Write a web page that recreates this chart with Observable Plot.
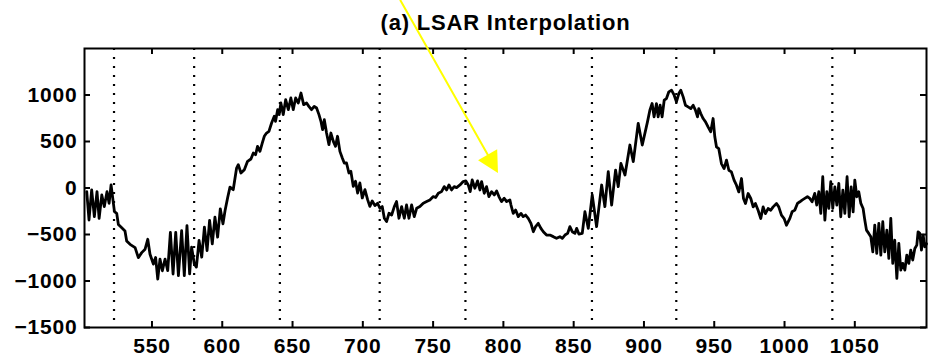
<!DOCTYPE html>
<html><head><meta charset="utf-8">
<script src="https://cdn.jsdelivr.net/npm/d3@7"></script>
<script src="https://cdn.jsdelivr.net/npm/@observablehq/plot@0.6"></script>
<style>
html,body{margin:0;padding:0;background:#fff;}
#chart svg{display:block}
</style></head><body><div id="chart"></div>
<script>
// sample index (x) and amplitude (y)
const sampleX = [503.6,505.2,507.1,509.0,510.9,512.4,514.3,516.1,518.0,519.5,520.9,523.3,524.9,526.1,528.5,530.8,532.0,534.4,538.0,540.3,542.7,545.1,547.0,548.6,551.0,552.6,554.1,555.7,557.4,559.3,561.2,563.1,565.0,566.9,568.8,571.1,573.0,574.9,576.8,578.2,580.1,581.6,583.5,585.4,587.3,589.2,591.0,592.9,594.8,596.7,598.6,600.5,602.0,603.9,605.5,
607.8,610.2,611.4,613.3,615.7,618.0,620.4,622.1,623.7,625.1,626.8,628.5,629.9,631.5,633.2,635.1,637.0,637.9,639.4,640.5,641.7,643.4,645.1,647.0,648.8,650.5,652.2,654.1,656.0,657.9,660.0,661.6,663.5,665.4,667.1,668.8,670.2,671.4,672.6,674.2,675.9,677.3,679.0,680.6,682.0,683.7,685.4,686.8,688.4,690.1,691.5,693.2,694.8,696.3,697.9,699.6,701.5,703.4,705.0,
706.7,708.6,710.5,712.2,713.8,715.3,716.9,718.6,720.5,722.4,724.0,725.7,727.6,729.5,731.1,732.8,734.7,736.6,738.3,740.6,743.0,745.4,747.7,750.1,751.8,753.7,756.0,757.9,759.6,761.3,763.1,765.0,766.7,769.1,771.4,773.3,775.0,776.4,777.8,779.7,781.6,783.3,784.5,786.4,788.0,789.7,791.6,793.5,795.2,796.8,798.7,800.6,802.3,804.6,
805.4,807.0,808.7,810.6,812.5,814.1,815.8,817.7,819.6,821.3,822.9,824.8,826.7,828.4,830.7,833.1,835.5,837.8,840.2,841.9,843.8,845.7,847.3,849.0,850.9,852.1,853.7,856.1,858.0,860.4,863.2,866.3,869.9,872.2,874.6,877.0,879.8,881.7,883.6,886.5,890.0,892.4,895.9,898.8,
902.5,904.2,905.8,907.2,908.9,910.1,911.5,912.9,914.4,916.0,917.7,919.6,921.5,923.1,924.8,926.2,927.9,929.5,931.4,933.3,935.0,936.6,938.1,939.0,940.4,942.1,943.8,945.6,947.5,949.2,950.4,951.6,953.2,955.1,957.0,958.7,960.4,962.2,964.1,965.8,967.5,969.4,970.8,972.2,974.1,976.0,977.7,979.3,981.2,983.1,984.8,986.4,988.3,990.2,991.9,994.3,995.9,997.8,999.7,1001.4,
1003.8,1005.4,1007.3,1009.2,1010.9,1012.5,1014.4,1016.3,1018.0,1019.6,1021.5,1022.9,1024.4,1025.8,1027.2,1028.7,1030.1,1031.5,1032.9,1034.3,1035.8,1037.2,1038.6,1040.0,1041.5,1042.9,1044.5,1046.0,1047.4,1048.8,1050.0,1051.4,1052.8,1054.3,1055.9,1057.1,1058.3,1059.9,1061.4,1062.8,1064.2,1065.6,1067.1,1068.5,1069.9,1071.3,1072.8,1074.2,1075.6,1077.0,1078.4,1079.9,1081.3,1082.7,1084.1,1085.6,1087.0,1088.4,1089.8,1091.2,1092.7,1094.1,1095.0,1096.2,1097.4,1098.6,1099.8,1101.0];
const sampleY = [-40,-344,-21,-308,-39,-326,-75,-200,-39,-164,33,-254,-272,-393,-428,-463,-570,-606,-641,-749,-695,-658,-551,-712,-818,-747,-980,-765,-890,-764,-889,-477,-925,-477,-943,-458,-942,-404,-924,-636,-815,-851,-564,-744,-421,-672,-349,-600,-314,-529,-224,-385,-242,-99,9,
-18,215,251,161,197,287,312,376,358,448,394,484,556,591,609,699,771,717,842,789,914,789,950,842,968,842,968,914,1021,896,914,878,842,878,860,789,717,627,735,591,466,591,502,448,556,394,323,269,269,161,179,18,72,-54,54,-107,-18,-125,-197,
-139,-189,-164,-218,-200,-325,-361,-272,-290,-200,-146,-325,-200,-325,-182,-325,-182,-308,-218,-200,-164,-146,-128,-92,-103,-57,-39,15,-21,33,-21,15,4,33,69,76,33,-39,87,-3,76,-21,69,-57,15,-92,-39,-75,-32,-92,-146,-110,-146,-128,
-183,-273,-237,-308,-273,-308,-291,-326,-380,-470,-416,-380,-434,-470,-506,-506,-523,-541,-523,-541,-506,-488,-416,-470,-488,-434,-495,-488,-255,-434,-75,-416,32,-201,175,-183,193,14,265,140,462,283,695,462,
711,837,908,765,908,765,890,765,944,962,1034,1052,998,926,1016,1052,980,890,872,854,890,837,765,854,801,747,711,657,604,747,550,442,424,263,209,299,191,173,84,30,-42,102,-113,-167,-59,-113,-203,-167,-239,-328,-203,-275,-221,-239,-203,-167,-203,-292,-328,-400,
-327,-256,-238,-166,-148,-130,-112,-94,-112,-148,-58,-184,-40,-273,121,-345,-40,-220,67,-220,13,-184,49,-309,-23,-273,121,-309,13,-256,85,-94,-40,-166,-220,-345,-453,-488,-524,-686,-399,-704,-381,-721,-363,-686,-453,-757,-327,-811,-560,-972,-596,-883,-811,-883,-721,-811,-668,-775,-650,-614,-471,-488,-668,-506,-632,-600];

const gapMarkers = [523, 580, 641, 712, 773, 863, 923, 1034];
const xTicks = [550, 600, 650, 700, 750, 800, 850, 900, 950, 1000, 1050];
const yTicks = [-1500, -1000, -500, 0, 500, 1000];
const titleText = ["(a) LSAR Interpolation"];

const W = 934, H = 363, mL = 84, mR = 8, mT = 48, mB = 36;
const frameW = W - mL - mR, frameH = H - mT - mB;
const series = sampleX.map((x, i) => ({x, y: sampleY[i]}));
const fmt = d => (d < 0 ? "\u2212" + Math.abs(d) : String(d));
const arrowSpec = [{x1: 726.8, y1: 2016, x2: 789.4, y2: 343, tx: 796.5, ty: 156}];

const plot = Plot.plot({
  width: W, height: H,
  marginLeft: mL, marginRight: mR, marginTop: mT, marginBottom: mB,
  style: {fontFamily: "'Liberation Sans', Arial, Helvetica, sans-serif", fontSize: "21px", fontWeight: "bold", letterSpacing: "0.8px", background: "white", color: "black"},
  x: {domain: [502, 1101], ticks: xTicks, tickFormat: fmt, tickSize: 0, tickPadding: 11, label: null},
  y: {domain: [-1500, 1500], ticks: yTicks, tickFormat: fmt, tickSize: 0, tickPadding: 7, label: null},
  marks: [
    Plot.ruleX(gapMarkers, {x: d => d, stroke: "black", strokeWidth: 2.2, strokeDasharray: "2,7"}),
    Plot.line(series, {x: "x", y: "y", stroke: "black", strokeWidth: 2.8, strokeLinejoin: "round"}),
    Plot.frame({stroke: "black", strokeWidth: 2}),
    Plot.tickX(xTicks, {x: d => d, insetTop: frameH - 6, strokeWidth: 2}),
    Plot.tickX(xTicks, {x: d => d, insetBottom: frameH - 6, strokeWidth: 2}),
    Plot.tickY(yTicks, {y: d => d, insetRight: frameW - 6, strokeWidth: 2}),
    Plot.tickY(yTicks, {y: d => d, insetLeft: frameW - 6, strokeWidth: 2}),
    Plot.text(titleText, {text: d => d, frameAnchor: "top", lineAnchor: "middle", dy: -26, fontSize: 22, fontWeight: "bold"}),
    Plot.arrow(arrowSpec, {x1: "x1", y1: "y1", x2: "x2", y2: "y2", stroke: "#ffff00", strokeWidth: 2, headLength: 0})
  ]
});
document.getElementById("chart").appendChild(plot);

// filled yellow arrowhead computed from the scales
const sx = plot.scale("x"), sy = plot.scale("y");
const a = arrowSpec[0];
const p0 = [sx.apply(a.x1), sy.apply(a.y1)], tip = [sx.apply(a.tx), sy.apply(a.ty)];
const dx = tip[0] - p0[0], dy = tip[1] - p0[1], len = Math.hypot(dx, dy);
const ux = dx / len, uy = dy / len, nx = -uy, ny = ux, hl = 21, hw = 11;
const bx = tip[0] - ux * hl, by = tip[1] - uy * hl;
d3.select(plot).append("polygon")
  .attr("points", [[tip[0], tip[1]], [bx + nx * hw, by + ny * hw], [bx - nx * hw, by - ny * hw]].map(p => p.join(",")).join(" "))
  .attr("fill", "#ffff00");
</script></body></html>
